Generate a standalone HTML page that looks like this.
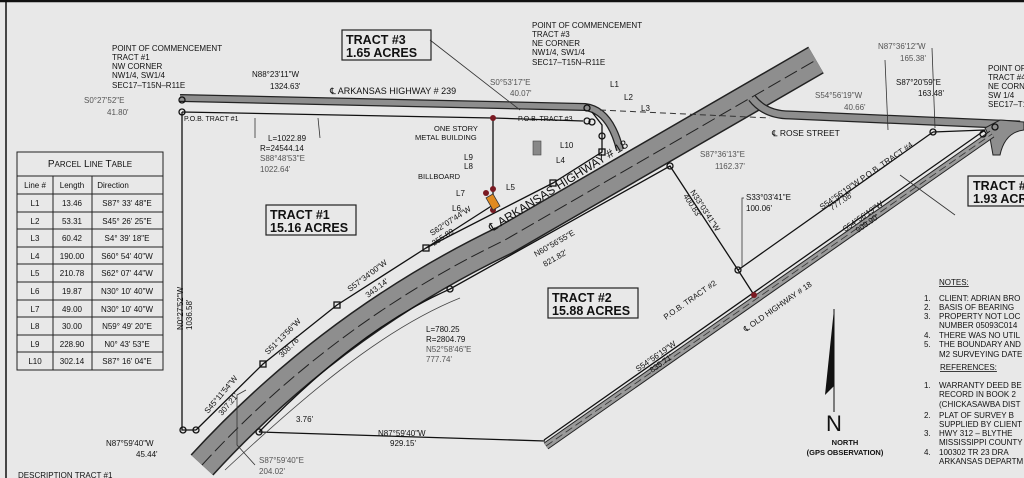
<!DOCTYPE html>
<html><head><meta charset="utf-8"><style>
html,body{margin:0;padding:0;background:#e8e8e8;}
svg{display:block}
text{font-family:"Liberation Sans",sans-serif;font-size:8px;fill:#111}
.g{fill:#555}
.b{font-size:12.5px;font-weight:bold}
</style></head><body>
<svg width="1024" height="478" viewBox="0 0 1024 478" xmlns="http://www.w3.org/2000/svg">
<rect width="1024" height="478" fill="#e8e8e8"/>
<line x1="0" y1="1" x2="1024" y2="1" stroke="#111" stroke-width="2.5"/>
<line x1="6" y1="0" x2="6" y2="478" stroke="#111" stroke-width="1.5"/>

<!-- Arkansas Hwy 18 -->
<path d="M202,465 C280,380 380,300 505,240 L816,60" fill="none" stroke="#222" stroke-width="31"/>
<path d="M202,465 C280,380 380,300 505,240 L816,60" fill="none" stroke="#8e8e8e" stroke-width="28"/>
<path d="M202,465 C280,380 380,300 505,240 L816,60" fill="none" stroke="#222" stroke-width="1" stroke-dasharray="14,5"/>
<!-- Hwy 239 -->
<path d="M180,98 L585,107 Q610,110 620,150" fill="none" stroke="#222" stroke-width="8"/>
<path d="M180,98 L585,107 Q610,110 620,150" fill="none" stroke="#8e8e8e" stroke-width="5.5"/>
<!-- Rose street -->
<path d="M752,98 Q765,115 790,115 L1020,125" fill="none" stroke="#222" stroke-width="9"/>
<path d="M752,98 Q765,115 790,115 L1020,125" fill="none" stroke="#8e8e8e" stroke-width="6.5"/>
<path d="M985,128 L1000,120 L1024,122 L1024,130 Q1005,132 1000,155 L993,155 L990,138 Z" fill="#8e8e8e" stroke="#222" stroke-width="1"/>
<!-- Old hwy 18 -->
<path d="M546,446 L992,134" fill="none" stroke="#222" stroke-width="8"/>
<path d="M546,446 L992,134" fill="none" stroke="#9a9a9a" stroke-width="6"/>
<path d="M546,446 L992,134" fill="none" stroke="#333" stroke-width="0.8" stroke-dasharray="8,4"/>

<g fill="none" stroke="#111" stroke-width="1.3">
<polyline points="182,112 493,118 583,121"/>
<polyline points="182,112 182,430 196,430"/>
<polyline points="196,430 263,364 337,305 426,248 493,205"/>
<polyline points="493,118 493,205"/>
<polyline points="426,248 553,183 602,152 602,125 592,112"/>
<polyline points="259,432 545,441"/>
<path d="M259,432 C320,370 380,320 450,289 L670,166 L738,270 L754,295"/>
<path d="M225,470 C300,400 380,330 460,298" stroke="#444" stroke-width="0.8"/>
<line x1="544" y1="440" x2="985" y2="130"/>
<line x1="738" y1="270" x2="933" y2="132"/>
<line x1="933" y1="132" x2="985" y2="130"/>
</g>
<line x1="600" y1="110" x2="770" y2="118" stroke="#333" stroke-width="1" stroke-dasharray="6,4"/>
<g fill="none" stroke="#333" stroke-width="0.8">
<polyline points="742,268 742,198 744,198"/>
<polyline points="430,40 520,110"/>
<polyline points="255,138 255,118"/>
<polyline points="320,138 318,118"/>
<polyline points="932,48 935,128"/>
<polyline points="885,60 888,130"/>
<polyline points="955,215 900,175"/>
<polyline points="246,390 237,395 237,445 255,465"/>
</g>
<g fill="none" stroke="#111" stroke-width="1.3">
<circle cx="182" cy="100" r="3"/><circle cx="182" cy="112" r="3"/>
<circle cx="183" cy="430" r="3"/><circle cx="196" cy="430" r="3"/><circle cx="259" cy="432" r="3"/>
<circle cx="450" cy="289" r="3"/><circle cx="670" cy="166" r="3"/><circle cx="738" cy="270" r="3"/>
<circle cx="933" cy="132" r="3"/><circle cx="983" cy="134" r="3"/><circle cx="995" cy="127" r="3"/>
<circle cx="587" cy="108" r="3"/><circle cx="587" cy="121" r="3"/><circle cx="592" cy="122" r="3"/><circle cx="602" cy="136" r="3"/>
<rect x="423" y="245" width="6" height="6"/><rect x="334" y="302" width="6" height="6"/><rect x="260" y="361" width="6" height="6"/>
<rect x="550" y="180" width="6" height="6"/><rect x="599" y="149" width="6" height="6"/>
</g>
<g fill="#7a1a22"><circle cx="493" cy="118" r="3"/><circle cx="486" cy="193" r="3"/><circle cx="493" cy="189" r="3"/><circle cx="493" cy="210" r="3"/><circle cx="754" cy="295" r="3"/></g>
<rect x="489" y="195" width="8" height="14" fill="#e08a20" stroke="#333" stroke-width="0.8" transform="rotate(-30 493 202)"/>
<rect x="533" y="141" width="8" height="14" fill="#888" stroke="#444" stroke-width="0.6"/>

<rect x="342" y="30" width="89" height="30" fill="none" stroke="#222" stroke-width="1.2"/>
<text x="346" y="44" class="b">TRACT #3</text><text x="346" y="57" class="b">1.65 ACRES</text>
<rect x="266" y="205" width="90" height="30" fill="none" stroke="#222" stroke-width="1.2"/>
<text x="270" y="219" class="b">TRACT #1</text><text x="270" y="232" class="b">15.16 ACRES</text>
<rect x="548" y="288" width="90" height="30" fill="none" stroke="#222" stroke-width="1.2"/>
<text x="552" y="302" class="b">TRACT #2</text><text x="552" y="315" class="b">15.88 ACRES</text>
<rect x="968" y="176" width="60" height="30" fill="none" stroke="#222" stroke-width="1.2"/>
<text x="973" y="190" class="b">TRACT #4</text><text x="973" y="203" class="b">1.93 ACRES</text>

<text x="112" y="51">POINT OF COMMENCEMENT</text><text x="112" y="60">TRACT #1</text><text x="112" y="69">NW CORNER</text><text x="112" y="78">NW1/4, SW1/4</text><text x="112" y="88">SEC17–T15N–R11E</text>
<text x="532" y="28">POINT OF COMMENCEMENT</text><text x="532" y="37">TRACT #3</text><text x="532" y="46">NE CORNER</text><text x="532" y="55">NW1/4, SW1/4</text><text x="532" y="65">SEC17–T15N–R11E</text>
<text x="988" y="71">POINT OF</text><text x="988" y="80">TRACT #4</text><text x="988" y="89">NE CORNER</text><text x="988" y="98">SW 1/4</text><text x="988" y="107">SEC17–T15N</text>
<text x="252" y="77">N88°23'11"W</text><text x="270" y="89">1324.63'</text>
<text x="84" y="103" class="g">S0°27'52"E</text><text x="107" y="115" class="g">41.80'</text>
<text x="330" y="94" style="font-size:9px">℄ ARKANSAS HIGHWAY # 239</text>
<text x="184" y="121" style="font-size:7px">P.O.B. TRACT #1</text>
<text x="268" y="141">L=1022.89</text><text x="260" y="151">R=24544.14</text><text x="260" y="161" class="g">S88°48'53"E</text><text x="260" y="172" class="g">1022.64'</text>
<text x="490" y="85" class="g">S0°53'17"E</text><text x="510" y="96" class="g">40.07'</text>
<text x="518" y="121" style="font-size:7px">P.O.B. TRACT #3</text>
<text x="610" y="87">L1</text><text x="624" y="100">L2</text><text x="641" y="111">L3</text><text x="560" y="148">L10</text><text x="556" y="163">L4</text><text x="506" y="190">L5</text>
<text x="434" y="131" style="font-size:7.5px">ONE STORY</text><text x="415" y="140" style="font-size:7.5px">METAL BUILDING</text>
<text x="464" y="160">L9</text><text x="464" y="169">L8</text><text x="418" y="179" style="font-size:7.5px">BILLBOARD</text><text x="456" y="196">L7</text><text x="452" y="211">L6</text>
<text x="878" y="49" class="g">N87°36'12"W</text><text x="900" y="61" class="g">165.38'</text>
<text x="896" y="85">S87°20'59"E</text><text x="918" y="96">163.48'</text>
<text x="815" y="98" class="g">S54°56'19"W</text><text x="844" y="110" class="g">40.66'</text>
<text x="772" y="136" style="font-size:8.5px">℄ ROSE STREET</text>
<text x="700" y="157" class="g">S87°36'13"E</text><text x="715" y="169" class="g">1162.37'</text>
<text x="746" y="200">S33°03'41"E</text><text x="746" y="211">100.06'</text>
<text x="492" y="232" style="font-size:12px" transform="rotate(-32 492 232)">℄ ARKANSAS HIGHWAY # 18</text>
<text x="432" y="236" transform="rotate(-33 432 236)">S62°07'44"W</text><text x="434" y="246" transform="rotate(-33 434 246)">255.89</text>
<text x="536" y="257" transform="rotate(-30 536 257)">N60°56'55"E</text><text x="545" y="267" transform="rotate(-30 545 267)">821.82'</text>
<text x="350" y="292" transform="rotate(-37 350 292)">S57°34'00"W</text><text x="368" y="298" transform="rotate(-37 368 298)">343.14'</text>
<text x="268" y="355" transform="rotate(-45 268 355)">S51°13'56"W</text><text x="282" y="358" transform="rotate(-45 282 358)">308.76'</text>
<text x="208" y="414" transform="rotate(-50 208 414)">S45°11'54"W</text><text x="222" y="416" transform="rotate(-50 222 416)">307.21'</text>
<text x="183" y="330" transform="rotate(-90 183 330)">N0°27'52"W</text><text x="192" y="330" transform="rotate(-90 192 330)">1036.58'</text>
<text x="426" y="332">L=780.25</text><text x="426" y="342">R=2804.79</text><text x="426" y="352" class="g">N52°58'46"E</text><text x="426" y="362" class="g">777.74'</text>
<text x="296" y="422">3.76'</text>
<text x="378" y="436">N87°59'40"W</text><text x="390" y="446">929.15'</text>
<text x="106" y="446">N87°59'40"W</text><text x="136" y="457">45.44'</text>
<text x="259" y="463" class="g">S87°59'40"E</text><text x="259" y="474" class="g">204.02'</text>
<text x="18" y="478">DESCRIPTION TRACT #1</text>
<text x="690" y="192" transform="rotate(57 690 192)">N33°03'41"W</text><text x="683" y="196" transform="rotate(57 683 196)">400.83'</text>
<text x="666" y="320" transform="rotate(-35 666 320)">P.O.B.      TRACT #2</text>
<text x="746" y="332" transform="rotate(-35 746 332)">℄ OLD HIGHWAY # 18</text>
<text x="638" y="372" transform="rotate(-35 638 372)">S54°56'19"W</text><text x="652" y="373" transform="rotate(-35 652 373)">835.71'</text>
<text x="822" y="210" transform="rotate(-35 822 210)">S54°56'19"W   P.O.B. TRACT #4</text><text x="832" y="211" transform="rotate(-35 832 211)">777.08'</text>
<text x="845" y="232" transform="rotate(-35 845 232)">S54°56'19"W</text><text x="858" y="233" transform="rotate(-35 858 233)">909.90'</text>

<polygon points="834,309 825,395 834,386" fill="#111"/>
<line x1="834" y1="309" x2="834" y2="412" stroke="#111" stroke-width="1"/>
<text x="834" y="431" text-anchor="middle" style="font-size:22px">N</text>
<text x="845" y="445" text-anchor="middle" style="font-size:7.5px;font-weight:bold">NORTH</text>
<text x="845" y="455" text-anchor="middle" style="font-size:7.5px;font-weight:bold">(GPS OBSERVATION)</text>

<g style="font-size:8px">
<text x="939" y="285" text-decoration="underline">NOTES:</text>
<text x="924" y="301">1.</text><text x="939" y="301">CLIENT:  ADRIAN BRO</text>
<text x="924" y="310">2.</text><text x="939" y="310">BASIS OF BEARING</text>
<text x="924" y="319">3.</text><text x="939" y="319">PROPERTY NOT LOC</text>
<text x="939" y="328">NUMBER 05093C014</text>
<text x="924" y="338">4.</text><text x="939" y="338">THERE WAS NO UTIL</text>
<text x="924" y="347">5.</text><text x="939" y="347">THE BOUNDARY AND</text>
<text x="939" y="357">M2 SURVEYING DATE</text>
<text x="940" y="370" text-decoration="underline">REFERENCES:</text>
<text x="924" y="388">1.</text><text x="939" y="388">WARRANTY DEED BE</text>
<text x="939" y="397">RECORD IN BOOK 2</text>
<text x="939" y="407">(CHICKASAWBA DIST</text>
<text x="924" y="418">2.</text><text x="939" y="418">PLAT OF SURVEY B</text>
<text x="939" y="427">SUPPLIED BY CLIENT</text>
<text x="924" y="436">3.</text><text x="939" y="436">HWY 312 – BLYTHE</text>
<text x="939" y="445">MISSISSIPPI COUNTY</text>
<text x="924" y="455">4.</text><text x="939" y="455">100302 TR 23 DRA</text>
<text x="939" y="464">ARKANSAS DEPARTM</text>
</g>

<g fill="none" stroke="#222" stroke-width="1">
<rect x="17" y="152" width="146" height="218"/>
<line x1="17" y1="176" x2="163" y2="176"/>
<line x1="53" y1="176" x2="53" y2="370"/><line x1="92" y1="176" x2="92" y2="370"/>
<line x1="17" y1="194" x2="163" y2="194"/><line x1="17" y1="212" x2="163" y2="212"/><line x1="17" y1="229" x2="163" y2="229"/><line x1="17" y1="247" x2="163" y2="247"/><line x1="17" y1="264" x2="163" y2="264"/><line x1="17" y1="282" x2="163" y2="282"/><line x1="17" y1="300" x2="163" y2="300"/><line x1="17" y1="317" x2="163" y2="317"/><line x1="17" y1="335" x2="163" y2="335"/><line x1="17" y1="352" x2="163" y2="352"/>
</g>
<text x="90" y="167" text-anchor="middle" style="font-size:10px">P<tspan style="font-size:8px">ARCEL</tspan> L<tspan style="font-size:8px">INE</tspan> T<tspan style="font-size:8px">ABLE</tspan></text>
<g style="font-size:7.5px" text-anchor="middle">
<text x="35" y="188">Line #</text><text x="72" y="188">Length</text><text x="113" y="188">Direction</text>
<text x="35" y="206">L1</text><text x="72" y="206">13.46</text><text x="127" y="206">S87° 33' 48"E</text>
<text x="35" y="224">L2</text><text x="72" y="224">53.31</text><text x="127" y="224">S45° 26' 25"E</text>
<text x="35" y="241">L3</text><text x="72" y="241">60.42</text><text x="127" y="241">S4° 39' 18"E</text>
<text x="35" y="259">L4</text><text x="72" y="259">190.00</text><text x="127" y="259">S60° 54' 40"W</text>
<text x="35" y="276">L5</text><text x="72" y="276">210.78</text><text x="127" y="276">S62° 07' 44"W</text>
<text x="35" y="294">L6</text><text x="72" y="294">19.87</text><text x="127" y="294">N30° 10' 40"W</text>
<text x="35" y="312">L7</text><text x="72" y="312">49.00</text><text x="127" y="312">N30° 10' 40"W</text>
<text x="35" y="329">L8</text><text x="72" y="329">30.00</text><text x="127" y="329">N59° 49' 20"E</text>
<text x="35" y="347">L9</text><text x="72" y="347">228.90</text><text x="127" y="347">N0° 43' 53"E</text>
<text x="35" y="364">L10</text><text x="72" y="364">302.14</text><text x="127" y="364">S87° 16' 04"E</text>
</g>
</svg>
</body></html>
